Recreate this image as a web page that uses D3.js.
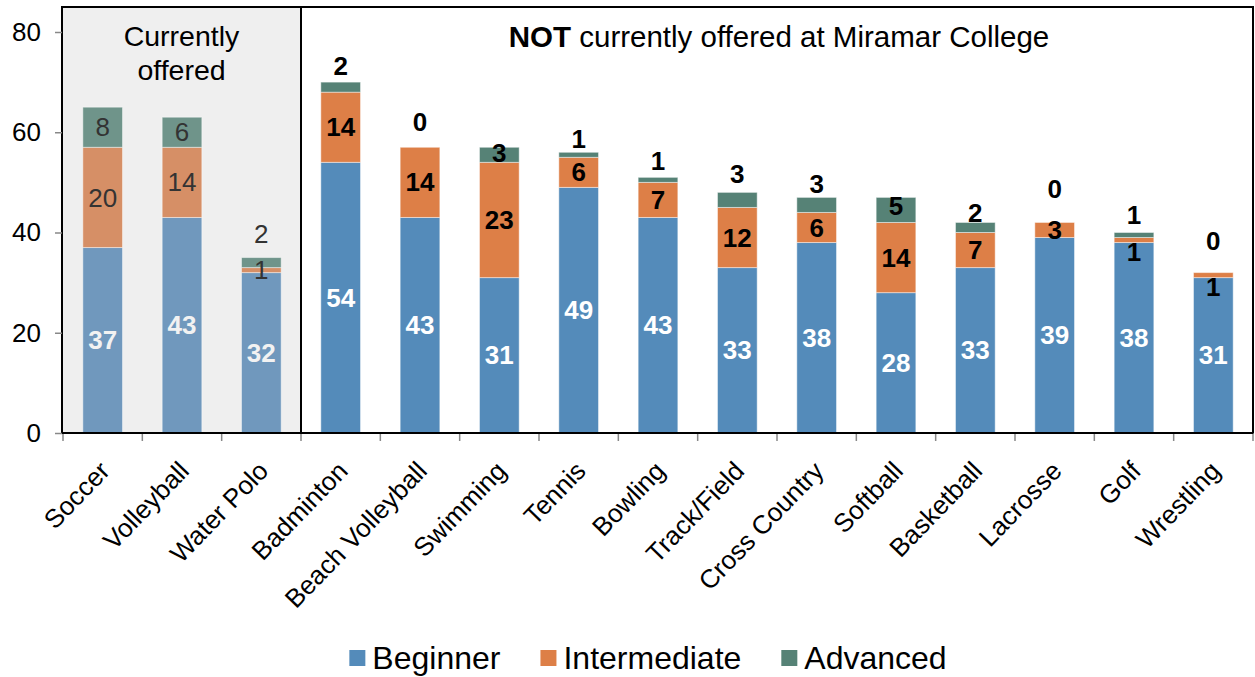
<!DOCTYPE html>
<html>
<head>
<meta charset="utf-8">
<script src="https://cdn.jsdelivr.net/npm/d3@7"></script>
<style>
  body { margin: 0; background: #fff; }
  svg { display: block; font-family: "Liberation Sans", Arial, sans-serif; }
</style>
</head>
<body>
<svg id="chart" width="1255" height="677"></svg>
<script>
'use strict';
// data
const sports = ['Soccer', 'Volleyball', 'Water Polo', 'Badminton', 'Beach Volleyball',
  'Swimming', 'Tennis', 'Bowling', 'Track/Field', 'Cross Country', 'Softball',
  'Basketball', 'Lacrosse', 'Golf', 'Wrestling'];
const beginner = [37, 43, 32, 54, 43, 31, 49, 43, 33, 38, 28, 33, 39, 38, 31];
const intermediate = [20, 14, 1, 14, 14, 23, 6, 7, 12, 6, 14, 7, 3, 1, 1];
const advanced = [8, 6, 2, 2, 0, 3, 1, 1, 3, 3, 5, 2, 0, 1, 0];
const levels = ['Beginner', 'Intermediate', 'Advanced'];
const offeredCount = 3; // first three sports are currently offered
const yTicks = [0, 20, 40, 60, 80];

// label nudges (px from segment middle), hand placed like the original
const advNudge = [0, 0, -29, -21, -25, -2, -16, -19, -26, -21, -4, -15, -34, -20, -32];
const midNudge = [0, 0, 0, 0, 0, 0, 0, 0, 0, 0, 0, 0, 0, 12, 12];

const colors = ['#548bba', '#dd7f47', '#568276'];
const dimColors = ['#7098bd', '#d68f66', '#6f948a'];

const svg = d3.select('#chart');
const plotL = 62, plotR = 1253, plotT = 7, plotB = 433;

const x = d3.scaleBand().domain(sports).range([63, 1253])
  .paddingInner(0.5).paddingOuter(0.25);
const y = d3.scaleLinear().domain([0, 80]).range([433, 32]);
const step = x.step();
const boundary = (i) => 63 + i * step;

const rows = sports.map((s, i) => ({
  sport: s, i, Beginner: beginner[i], Intermediate: intermediate[i], Advanced: advanced[i],
}));
const series = d3.stack().keys(levels)(rows);

// gray box for currently offered
svg.append('rect')
  .attr('x', plotL).attr('y', plotT)
  .attr('width', boundary(offeredCount) - plotL).attr('height', plotB - plotT)
  .attr('fill', '#efefef');

// bars
svg.append('g')
  .selectAll('g')
  .data(series)
  .join('g')
  .selectAll('rect')
  .data((s, k) => s.map((d) => ({ d, k })))
  .join('rect')
  .attr('x', (e) => x(e.d.data.sport))
  .attr('width', x.bandwidth())
  .attr('y', (e) => y(e.d[1]))
  .attr('height', (e) => y(e.d[0]) - y(e.d[1]))
  .attr('fill', (e) => (e.d.data.i < offeredCount ? dimColors[e.k] : colors[e.k]))
  .attr('stroke', '#fff').attr('stroke-opacity', 0.45).attr('stroke-width', 1);

// segment labels
const labels = svg.append('g').attr('text-anchor', 'middle');
series.forEach((s, k) => {
  labels.selectAll(null)
    .data(s)
    .join('text')
    .attr('x', (d) => x(d.data.sport) + x.bandwidth() / 2)
    .attr('y', (d) => {
      const i = d.data.i;
      const nudge = k === 2 ? advNudge[i] : k === 1 ? midNudge[i] : 0;
      return y((d[0] + d[1]) / 2) + nudge;
    })
    .attr('dy', '0.35em')
    .attr('font-size', 26)
    .attr('font-weight', (d) => (k === 0 || d.data.i >= offeredCount ? 'bold' : 'normal'))
    .attr('fill', (d) => {
      const off = d.data.i < offeredCount;
      if (k === 0) return off ? '#f2f2f2' : '#fff';
      return off ? '#333' : '#000';
    })
    .text((d) => d[1] - d[0]);
});

// frames
svg.append('rect')
  .attr('x', plotL).attr('y', plotT)
  .attr('width', boundary(offeredCount) - plotL).attr('height', plotB - plotT)
  .attr('fill', 'none').attr('stroke', '#000').attr('stroke-width', 2);
svg.append('rect')
  .attr('x', boundary(offeredCount)).attr('y', plotT)
  .attr('width', plotR - boundary(offeredCount)).attr('height', plotB - plotT)
  .attr('fill', 'none').attr('stroke', '#000').attr('stroke-width', 2);

// box titles
const offCx = (plotL + boundary(offeredCount)) / 2;
svg.append('text').attr('x', offCx).attr('y', 46).attr('text-anchor', 'middle')
  .attr('font-size', 28.5).text('Currently');
svg.append('text').attr('x', offCx).attr('y', 80).attr('text-anchor', 'middle')
  .attr('font-size', 28.5).text('offered');
const notTitle = svg.append('text')
  .attr('x', (boundary(offeredCount) + plotR) / 2 + 2).attr('y', 47)
  .attr('text-anchor', 'middle').attr('font-size', 29.5);
notTitle.append('tspan').attr('font-weight', 'bold').text('NOT');
notTitle.append('tspan').text(' currently offered at Miramar College');

// y axis
const yAxis = svg.append('g').attr('transform', `translate(${plotL},0)`)
  .call(d3.axisLeft(y).tickValues(yTicks).tickSize(7).tickPadding(14));
yAxis.select('.domain').remove();
yAxis.selectAll('line').attr('stroke', '#888').attr('stroke-width', 1.5);
yAxis.selectAll('text').attr('font-size', 26).attr('fill', '#000')
  .attr('font-family', '"Liberation Sans", Arial, sans-serif');

// x axis: ticks on band boundaries, labels rotated
const xg = svg.append('g');
xg.selectAll('line')
  .data(d3.range(sports.length + 1))
  .join('line')
  .attr('x1', (i) => boundary(i)).attr('x2', (i) => boundary(i))
  .attr('y1', plotB).attr('y2', plotB + 8)
  .attr('stroke', '#888').attr('stroke-width', 1.5);
xg.append('line').attr('x1', plotL).attr('x2', plotR).attr('y1', plotB).attr('y2', plotB)
  .attr('stroke', '#000').attr('stroke-width', 2);
xg.selectAll('text')
  .data(sports)
  .join('text')
  .attr('transform', (s) => `translate(${x(s) + x.bandwidth() / 2 + 2},466) rotate(-46)`)
  .attr('text-anchor', 'end')
  .attr('dy', '0.35em')
  .attr('font-size', 26)
  .text((s) => s);

// legend
const legend = svg.append('g');
const items = legend.selectAll('g').data(levels).join('g');
items.append('rect').attr('width', 16).attr('height', 16).attr('y', -8)
  .attr('fill', (d, k) => colors[k]);
items.append('text').attr('x', 23).attr('dy', '0.35em')
  .attr('font-size', 32).text((d) => d);
let pos = 0;
items.each(function () {
  d3.select(this).attr('transform', `translate(${pos},0)`);
  pos += 23 + d3.select(this).select('text').node().getComputedTextLength() + 40;
});
pos -= 40;
legend.attr('transform', `translate(${648 - pos / 2},658)`);
</script>
</body>
</html>
